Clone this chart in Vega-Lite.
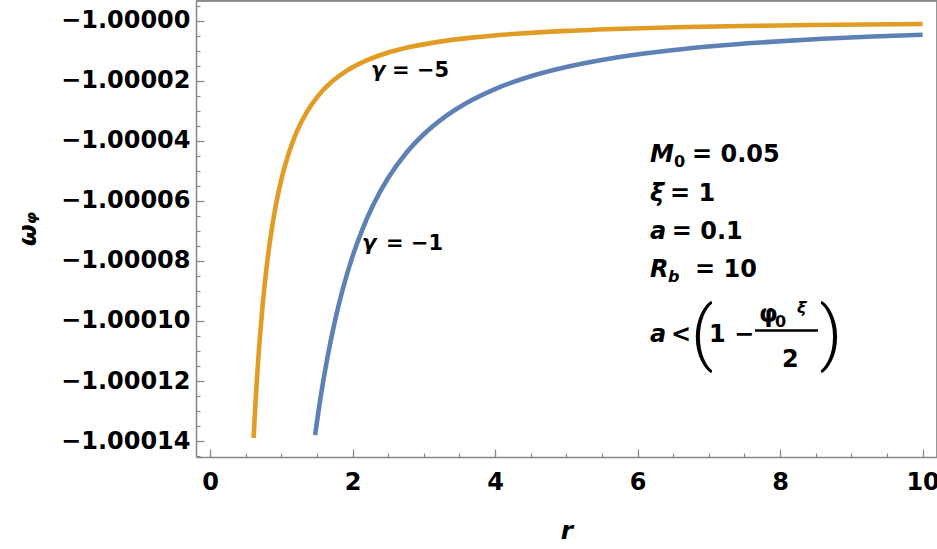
{
  "$schema": "https://vega.github.io/schema/vega-lite/v6.json",
  "width": 741,
  "height": 457,
  "autosize": "none",
  "padding": {"left": 196, "top": 0, "right": 0, "bottom": 92},
  "background": "white",
  "config": {
    "view": {"stroke": null},
    "axis": {
      "domainColor": "#888888",
      "tickColor": "#888888",
      "domainWidth": 1.5,
      "tickWidth": 1.2,
      "labelFont": "DejaVu Sans",
      "labelFontWeight": "bold",
      "labelFontSize": 24,
      "labelColor": "#000000",
      "grid": false,
      "titleFont": "DejaVu Sans",
      "titleFontWeight": "bold",
      "titleFontSize": 25,
      "titleColor": "#000000"
    }
  },
  "datasets": {
    "curves": [
      {"g": "-1", "r": 1.475, "w": -1.000138},
      {"g": "-1", "r": 1.55, "w": -1.0001257},
      {"g": "-1", "r": 1.65, "w": -1.0001119},
      {"g": "-1", "r": 1.75, "w": -1.0001003},
      {"g": "-1", "r": 1.875, "w": -1.00008835},
      {"g": "-1", "r": 2.0, "w": -1.00007849},
      {"g": "-1", "r": 2.15, "w": -1.00006881},
      {"g": "-1", "r": 2.3, "w": -1.00006089},
      {"g": "-1", "r": 2.5, "w": -1.00005239},
      {"g": "-1", "r": 2.75, "w": -1.00004416},
      {"g": "-1", "r": 3.0, "w": -1.00003782},
      {"g": "-1", "r": 3.3, "w": -1.00003193},
      {"g": "-1", "r": 3.6, "w": -1.00002738},
      {"g": "-1", "r": 4.0, "w": -1.00002275},
      {"g": "-1", "r": 4.5, "w": -1.0000185},
      {"g": "-1", "r": 5.0, "w": -1.0000154},
      {"g": "-1", "r": 5.6, "w": -1.00001264},
      {"g": "-1", "r": 6.3, "w": -1.00001031},
      {"g": "-1", "r": 7.0, "w": -1.00000859},
      {"g": "-1", "r": 7.8, "w": -1.00000713},
      {"g": "-1", "r": 8.6, "w": -1.00000602},
      {"g": "-1", "r": 9.3, "w": -1.00000527},
      {"g": "-1", "r": 10.0, "w": -1.00000465},
      {"g": "-5", "r": 0.612, "w": -1.0001389},
      {"g": "-5", "r": 0.64, "w": -1.00012654},
      {"g": "-5", "r": 0.67, "w": -1.0001152},
      {"g": "-5", "r": 0.7, "w": -1.00010545},
      {"g": "-5", "r": 0.74, "w": -1.00009436},
      {"g": "-5", "r": 0.79, "w": -1.00008298},
      {"g": "-5", "r": 0.85, "w": -1.00007203},
      {"g": "-5", "r": 0.92, "w": -1.00006196},
      {"g": "-5", "r": 1.0, "w": -1.00005301},
      {"g": "-5", "r": 1.1, "w": -1.00004446},
      {"g": "-5", "r": 1.22, "w": -1.00003684},
      {"g": "-5", "r": 1.36, "w": -1.00003034},
      {"g": "-5", "r": 1.52, "w": -1.00002493},
      {"g": "-5", "r": 1.7, "w": -1.00002051},
      {"g": "-5", "r": 1.9, "w": -1.00001694},
      {"g": "-5", "r": 2.15, "w": -1.00001371},
      {"g": "-5", "r": 2.45, "w": -1.000011},
      {"g": "-5", "r": 2.8, "w": -1.00000879},
      {"g": "-5", "r": 3.2, "w": -1.00000704},
      {"g": "-5", "r": 3.7, "w": -1.00000554},
      {"g": "-5", "r": 4.3, "w": -1.00000433},
      {"g": "-5", "r": 5.0, "w": -1.00000338},
      {"g": "-5", "r": 5.8, "w": -1.00000266},
      {"g": "-5", "r": 6.7, "w": -1.0000021},
      {"g": "-5", "r": 7.7, "w": -1.00000168},
      {"g": "-5", "r": 8.8, "w": -1.00000136},
      {"g": "-5", "r": 10.0, "w": -1.0000011}
    ],
    "italicBig": [
      {"r": 6.1745, "w": -1.0000471, "t": "M"},
      {"r": 6.1745, "w": -1.00006, "t": "ξ"},
      {"r": 6.1745, "w": -1.0000727, "t": "a"},
      {"r": 6.1745, "w": -1.0000853, "t": "R"},
      {"r": 6.1745, "w": -1.0001069, "t": "a"}
    ],
    "uprightBig": [
      {"r": 6.764, "w": -1.0000471, "t": "= 0.05"},
      {"r": 6.455, "w": -1.00006, "t": "= 1"},
      {"r": 6.48, "w": -1.0000727, "t": "= 0.1"},
      {"r": 6.806, "w": -1.0000853, "t": "= 10"},
      {"r": 6.469, "w": -1.0001069, "t": "<"},
      {"r": 7.0025, "w": -1.0001069, "t": "1 −"},
      {"r": 7.7042, "w": -1.0001003, "t": "φ"},
      {"r": 8.0269, "w": -1.0001152, "t": "2"}
    ],
    "uprightSmall": [
      {"r": 6.511, "w": -1.0000487, "t": "0"},
      {"r": 7.9287, "w": -1.000102, "t": "0"}
    ],
    "italicSmall": [
      {"r": 6.4272, "w": -1.0000869, "t": "b"},
      {"r": 8.2374, "w": -1.0000974, "t": "ξ"}
    ],
    "parens": [
      {"r": 6.75, "w": -1.000112, "t": "("},
      {"r": 8.554, "w": -1.000112, "t": ")"}
    ],
    "bar": [
      {"r": 7.648, "r2": 8.532, "w": -1.0001032}
    ],
    "gammaSym": [
      {"r": 2.2593, "w": -1.0000189, "t": "γ"},
      {"r": 2.133, "w": -1.0000764, "t": "γ"}
    ],
    "gammaVal": [
      {"r": 2.554, "w": -1.0000189, "t": "= −5"},
      {"r": 2.47, "w": -1.0000764, "t": "= −1"}
    ]
  },
  "layer": [
    {
      "data": {"name": "curves"},
      "mark": {"type": "line", "strokeWidth": 4.6, "interpolate": "monotone", "clip": true},
      "encoding": {
        "x": {
          "field": "r", "type": "quantitative",
          "scale": {"domain": [-0.1965, 10.202], "nice": false, "zero": false},
          "axis": {"orient": "bottom", "values": [0, 2, 4, 6, 8, 10], "format": "d", "tickSize": -8, "labelPadding": 21, "title": "r", "titleFontStyle": "italic", "titlePadding": 24}
        },
        "y": {
          "field": "w", "type": "quantitative",
          "scale": {"domain": [-1.0001453, -0.9999931], "nice": false, "zero": false},
          "axis": {"orient": "left", "values": [-1.00014, -1.00012, -1.0001, -1.00008, -1.00006, -1.00004, -1.00002, -1.0], "format": ".5f", "tickSize": -8, "labelPadding": 14, "title": "ωᵩ", "titleFontStyle": "italic", "titlePadding": 20}
        },
        "color": {"field": "g", "type": "nominal", "scale": {"domain": ["-1", "-5"], "range": ["#5E81B5", "#E19C24"]}, "legend": null}
      }
    },
    {
      "data": {"name": "italicBig"},
      "mark": {"type": "text", "font": "DejaVu Sans", "fontWeight": "bold", "fontStyle": "italic", "fontSize": 24, "align": "left", "baseline": "alphabetic", "color": "#000000"},
      "encoding": {
        "x": {"field": "r", "type": "quantitative", "axis": {"orient": "bottom", "values": [0, 0.5, 1, 1.5, 2, 2.5, 3, 3.5, 4, 4.5, 5, 5.5, 6, 6.5, 7, 7.5, 8, 8.5, 9, 9.5, 10], "labels": false, "domain": false, "tickSize": -4, "title": null}},
        "y": {"field": "w", "type": "quantitative", "axis": {"orient": "left", "values": [-1.000145, -1.00014, -1.000135, -1.00013, -1.000125, -1.00012, -1.000115, -1.00011, -1.000105, -1.0001, -1.000095, -1.00009, -1.000085, -1.00008, -1.000075, -1.00007, -1.000065, -1.00006, -1.000055, -1.00005, -1.000045, -1.00004, -1.000035, -1.00003, -1.000025, -1.00002, -1.000015, -1.00001, -1.000005, -1.0, -0.999995], "labels": false, "domain": false, "tickSize": -4, "title": null}},
        "text": {"field": "t"}
      }
    },
    {
      "data": {"name": "uprightBig"},
      "mark": {"type": "text", "font": "DejaVu Sans", "fontWeight": "bold", "fontSize": 24, "align": "left", "baseline": "alphabetic", "color": "#000000"},
      "encoding": {
        "x": {"field": "r", "type": "quantitative"},
        "y": {"field": "w", "type": "quantitative"},
        "text": {"field": "t"}
      }
    },
    {
      "data": {"name": "uprightSmall"},
      "mark": {"type": "text", "font": "DejaVu Sans", "fontWeight": "bold", "fontSize": 16, "align": "left", "baseline": "alphabetic", "color": "#000000"},
      "encoding": {
        "x": {"field": "r", "type": "quantitative"},
        "y": {"field": "w", "type": "quantitative"},
        "text": {"field": "t"}
      }
    },
    {
      "data": {"name": "italicSmall"},
      "mark": {"type": "text", "font": "DejaVu Sans", "fontWeight": "bold", "fontStyle": "italic", "fontSize": 16, "align": "left", "baseline": "alphabetic", "color": "#000000"},
      "encoding": {
        "x": {"field": "r", "type": "quantitative"},
        "y": {"field": "w", "type": "quantitative"},
        "text": {"field": "t"}
      }
    },
    {
      "data": {"name": "parens"},
      "mark": {"type": "text", "font": "Roboto", "fontWeight": 300, "fontSize": 70, "align": "left", "baseline": "alphabetic", "color": "#000000"},
      "encoding": {
        "x": {"field": "r", "type": "quantitative"},
        "y": {"field": "w", "type": "quantitative"},
        "text": {"field": "t"}
      }
    },
    {
      "data": {"name": "bar"},
      "mark": {"type": "rule", "strokeWidth": 2.5, "color": "#000000"},
      "encoding": {
        "x": {"field": "r", "type": "quantitative"},
        "x2": {"field": "r2"},
        "y": {"field": "w", "type": "quantitative"}
      }
    },
    {
      "data": {"name": "gammaSym"},
      "mark": {"type": "text", "font": "DejaVu Sans", "fontWeight": "bold", "fontStyle": "italic", "fontSize": 21, "align": "left", "baseline": "alphabetic", "color": "#000000"},
      "encoding": {
        "x": {"field": "r", "type": "quantitative"},
        "y": {"field": "w", "type": "quantitative"},
        "text": {"field": "t"}
      }
    },
    {
      "data": {"name": "gammaVal"},
      "mark": {"type": "text", "font": "DejaVu Sans", "fontWeight": "bold", "fontSize": 21, "align": "left", "baseline": "alphabetic", "color": "#000000"},
      "encoding": {
        "x": {"field": "r", "type": "quantitative"},
        "y": {"field": "w", "type": "quantitative"},
        "text": {"field": "t"}
      }
    }
  ],
  "resolve": {"axis": {"x": "independent", "y": "independent"}}
}
